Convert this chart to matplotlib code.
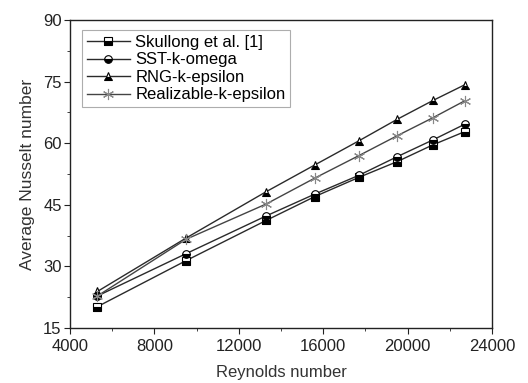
import matplotlib.pyplot as plt
from matplotlib.ticker import MultipleLocator

plt.rcParams['font.family'] = ['Liberation Sans', 'DejaVu Sans']

reynolds = [5300, 9500, 13300, 15600, 17700, 19500, 21200, 22700]
skullong = [20.2, 31.4, 41.2, 47.0, 51.7, 55.5, 59.6, 62.8]
sst_k_omega = [22.8, 33.1, 42.3, 47.6, 52.2, 56.7, 60.8, 64.6]
rng_k_epsilon = [23.9, 36.9, 48.2, 54.7, 60.6, 65.8, 70.4, 74.2]
realizable_k_epsilon = [22.8, 36.6, 45.2, 51.5, 57.0, 61.8, 66.2, 70.3]

fig = plt.figure(figsize=(5.28, 3.83), dpi=100)
ax = fig.add_axes([70/528, 55/383, 422/528, 308/383])

half = dict(fillstyle='bottom', markerfacecolor='black', markerfacecoloralt='white',
            markeredgecolor='black', markeredgewidth=0.8, markersize=5.5)
line_col = '#2a2a2a'

ax.plot(reynolds, skullong, color=line_col, lw=1.0, marker='s', label='Skullong et al. [1]', **half)
ax.plot(reynolds, sst_k_omega, color=line_col, lw=1.0, marker='o', label='SST-k-omega', **half)
ax.plot(reynolds, rng_k_epsilon, color=line_col, lw=1.0, marker='^', label='RNG-k-epsilon', **half)
ax.plot(reynolds, realizable_k_epsilon, color='#444444', lw=1.0, marker=(6, 2, 0), markersize=8,
        markeredgecolor='#888888', markeredgewidth=0.8, label='Realizable-k-epsilon')

ax.set_xlim(4000, 24000)
ax.set_ylim(15, 90)
ax.xaxis.set_major_locator(MultipleLocator(4000))
ax.xaxis.set_minor_locator(MultipleLocator(2000))
ax.yaxis.set_major_locator(MultipleLocator(15))
ax.yaxis.set_minor_locator(MultipleLocator(7.5))
ax.tick_params(which='both', direction='out', top=False, right=False, labelsize=12,
               colors='#222222', pad=2)
ax.tick_params(axis='x', which='both', pad=4)
ax.tick_params(which='major', length=4)
ax.tick_params(which='minor', length=2.5)
for s in ax.spines.values():
    s.set_linewidth(1.0)
    s.set_color('#222222')

ax.set_xlabel('Reynolds number', fontsize=12, color='#333333', labelpad=8)
ax.set_ylabel('Average Nusselt number', fontsize=12.5, color='#333333', labelpad=6)

leg = ax.legend(loc='upper left', bbox_to_anchor=(0.028, 0.968), fontsize=12, frameon=True,
                fancybox=False, edgecolor='#999999', handlelength=2.6, borderpad=0.3,
                labelspacing=0.15, handletextpad=0.3, borderaxespad=0)
leg.get_frame().set_linewidth(0.8)

fig.savefig('out.png', dpi=100)
